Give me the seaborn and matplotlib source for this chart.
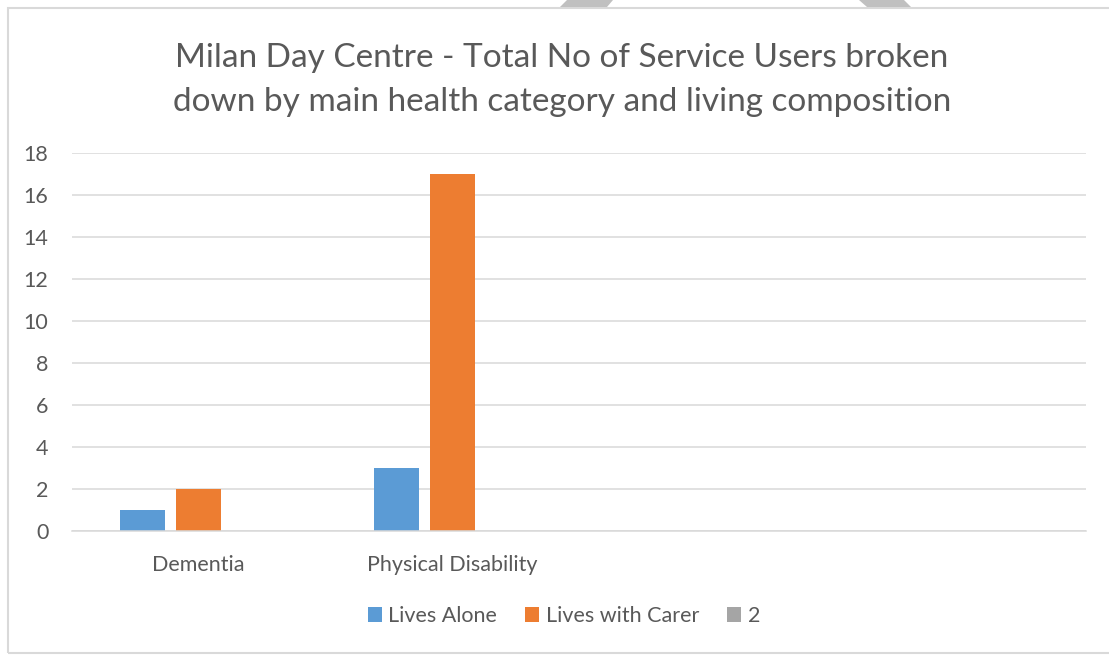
import matplotlib
matplotlib.use("Agg")
import matplotlib.pyplot as plt
from matplotlib.patches import Patch, Rectangle, Polygon
import numpy as np
import pandas as pd
import seaborn as sns

# Chart data
categories = ["Dementia", "Physical Disability"]
series = ["Lives Alone", "Lives with Carer", "2"]
lives_alone = [1, 3]
lives_with_carer = [2, 17]
series_2 = [np.nan, np.nan]
y_ticks = [0, 2, 4, 6, 8, 10, 12, 14, 16, 18]

title = "Milan Day Centre - Total No of Service Users broken\ndown by main health category and living composition"

colors = {"Lives Alone": "#5B9BD5", "Lives with Carer": "#ED7D31", "2": "#A5A5A5"}
text_color = "#595959"
grid_color = "#D9D9D9"

df = pd.DataFrame({
    "category": categories * 3,
    "series": [s for s in series for _ in categories],
    "value": lives_alone + lives_with_carer + series_2,
})

sns.set_theme(style="white")
plt.rcParams["font.family"] = ["Lato", "DejaVu Sans"]

W, H = 1109, 655
fig = plt.figure(figsize=(W / 100, H / 100), dpi=100)
fig.patch.set_facecolor("white")

ax = fig.add_axes([72 / W, 1 - 531 / H, (1086 - 72) / W, (531 - 153) / H])

sns.barplot(
    data=df, x="category", y="value", hue="series",
    order=categories, hue_order=series, palette=colors,
    width=0.662, gap=0.2, linewidth=0, saturation=1,
    legend=False, ax=ax,
)

label_size = 15.5
ax.set_xlim(-0.5, 3.5)
ax.set_ylim(0, 18)
ax.set_yticks(y_ticks)
ax.grid(axis="y", color=grid_color, linewidth=1.1)
ax.grid(axis="x", visible=False)
ax.set_axisbelow(True)
for side in ["top", "right", "left"]:
    ax.spines[side].set_visible(False)
ax.spines["bottom"].set_color(grid_color)
ax.spines["bottom"].set_linewidth(1.1)
ax.set_xlabel("")
ax.set_ylabel("")
ax.tick_params(axis="y", length=0, pad=17, labelsize=label_size, labelcolor=text_color)
ax.tick_params(axis="x", length=0, pad=17, labelsize=label_size, labelcolor=text_color)

fig.text(562 / W, 1 - 80 / H, title, ha="center", va="center",
         fontsize=24, color=text_color, linespacing=1.55)

handles = [Patch(facecolor=colors[s], edgecolor="none", label=s) for s in series]
fig.legend(handles=handles, loc="center", bbox_to_anchor=(564 / W, 1 - 616 / H),
           ncol=3, frameon=False, fontsize=label_size, labelcolor=text_color,
           handlelength=0.65, handleheight=0.65, handletextpad=0.3,
           columnspacing=1.3)

# chart frame and page decorations
fig.add_artist(Rectangle((8 / W, 1 - 653 / H), (1120 - 8) / W, (653 - 8) / H,
                         transform=fig.transFigure, fill=False,
                         edgecolor="#D9D9D9", linewidth=1.5))
for pts in ([(560, 7), (567, 0), (613, 0), (607, 7)],
            [(867, 7), (859, 0), (904, 0), (911, 7)]):
    fig.add_artist(Polygon([(x / W, 1 - y / H) for x, y in pts],
                           closed=True, transform=fig.transFigure,
                           facecolor="#C0C0C0", edgecolor="none"))

fig.savefig("out.png", dpi=100, facecolor="white")
